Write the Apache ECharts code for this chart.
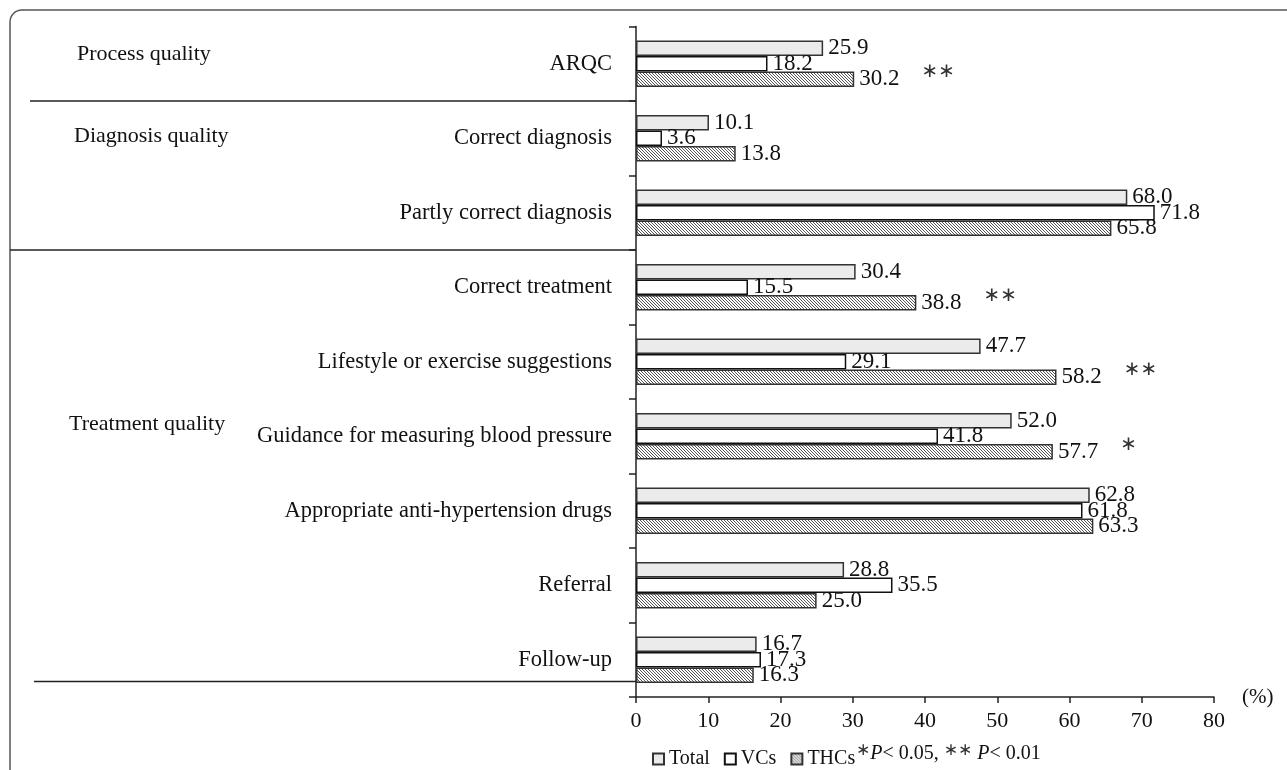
<!DOCTYPE html>
<html>
<head>
<meta charset="utf-8">
<script src="https://cdn.jsdelivr.net/npm/echarts@6/dist/echarts.min.js"></script>
<style>
html,body{margin:0;padding:0;background:#fff;}
#chart{width:1287px;height:770px;}
</style>
</head>
<body>
<div id="chart"></div>
<script>
const categories = ['ARQC','Correct diagnosis','Partly correct diagnosis','Correct treatment','Lifestyle or exercise suggestions','Guidance for measuring blood pressure','Appropriate anti-hypertension drugs','Referral','Follow-up'];
const totalValues = [25.9, 10.1, 68.0, 30.4, 47.7, 52.0, 62.8, 28.8, 16.7];
const vcValues = [18.2, 3.6, 71.8, 15.5, 29.1, 41.8, 61.8, 35.5, 17.3];
const thcValues = [30.2, 13.8, 65.8, 38.8, 58.2, 57.7, 63.3, 25.0, 16.3];
const sigMarks = ['**', '', '', '**', '**', '*', '', '', ''];
const xTicks = [0, 10, 20, 30, 40, 50, 60, 70, 80];
const groupNames = ['Process quality', 'Diagnosis quality', 'Treatment quality'];

const FONT = '"Liberation Serif", "Times New Roman", serif';

// hatch pattern
const pc = document.createElement('canvas');
pc.width = 3; pc.height = 3;
const pctx = pc.getContext('2d');
pctx.fillStyle = '#fff'; pctx.fillRect(0,0,3,3);
pctx.fillStyle = '#555';
for (let i = 0; i < 3; i++) pctx.fillRect(i, i, 1, 1);

const gridTop = 26.5, gridBottom = 73, gridLeft = 636, gridRight = 73;
const band = (770 - gridTop - gridBottom) / categories.length;

const chart = echarts.init(document.getElementById('chart'), null, {renderer: 'canvas'});

const star = s => s.replace(/\*/g, '\u2217');

const option = {
  animation: false,
  backgroundColor: '#fff',
  textStyle: {fontFamily: FONT, color: '#111'},
  grid: {left: gridLeft, right: gridRight, top: gridTop, bottom: gridBottom, containLabel: false},
  xAxis: {
    type: 'value', min: xTicks[0], max: xTicks[xTicks.length-1], interval: 10,
    name: '(%)', nameLocation: 'end', nameGap: 28,
    nameTextStyle: {fontFamily: FONT, fontSize: 21, color: '#111'},
    axisLine: {show: true, lineStyle: {color: '#222', width: 1.5}},
    axisTick: {show: true, length: 6, lineStyle: {color: '#222', width: 1.5}},
    axisLabel: {fontFamily: FONT, fontSize: 22, color: '#111', margin: 13},
    splitLine: {show: false}
  },
  yAxis: {
    type: 'category', data: categories, inverse: true,
    axisLine: {show: true, lineStyle: {color: '#222', width: 1.5}},
    axisTick: {show: true, length: 7, lineStyle: {color: '#222', width: 1.5}},
    axisLabel: {fontFamily: FONT, fontSize: 22.5, color: '#111', margin: 24}
  },
  legend: {
    left: 647, top: 744, itemWidth: 11, itemHeight: 11, itemGap: 14,
    icon: 'rect',
    textStyle: {fontFamily: FONT, fontSize: 20, color: '#111', padding: [0,0,0,0]},
    data: ['Total', 'VCs', 'THCs']
  },
  series: [
    {
      name: 'Total', type: 'bar', data: totalValues, barWidth: 15.5, barGap: '0%',
      itemStyle: {color: '#ebebeb', borderColor: '#333', borderWidth: 1.5},
      label: {show: true, position: 'right', distance: 5, fontFamily: FONT, fontSize: 23, color: '#111',
        formatter: p => p.value.toFixed(1)}
    },
    {
      name: 'VCs', type: 'bar', data: vcValues, barWidth: 15.5, barGap: '0%',
      itemStyle: {color: '#fff', borderColor: '#111', borderWidth: 1.5},
      label: {show: true, position: 'right', distance: 5, fontFamily: FONT, fontSize: 23, color: '#111',
        formatter: p => p.value.toFixed(1)}
    },
    {
      name: 'THCs', type: 'bar', data: thcValues, barWidth: 15.5, barGap: '0%',
      itemStyle: {color: {image: pc, repeat: 'repeat'}, borderColor: '#333', borderWidth: 1.5},
      label: {show: true, position: 'right', distance: 5, fontFamily: FONT, fontSize: 23, color: '#111',
        formatter: p => '{v|' + p.value.toFixed(1) + '}' + (sigMarks[p.dataIndex] ? '{s|' + star(sigMarks[p.dataIndex]) + '}' : ''),
        rich: {
          v: {fontFamily: FONT, fontSize: 23, color: '#111'},
          s: {fontFamily: '"DejaVu Sans", sans-serif', fontSize: 20, color: '#333', padding: [0, 0, 14, 22]}
        }
      }
    }
  ],
  graphic: [
    {type: 'rect', shape: {x: 10, y: 10, width: 1300, height: 800, r: 12},
     style: {fill: null, stroke: '#555', lineWidth: 1.5}, silent: true, z: -1},
    {type: 'line', shape: {x1: 30, y1: gridTop + band, x2: gridLeft, y2: gridTop + band},
     style: {stroke: '#222', lineWidth: 1.5}},
    {type: 'line', shape: {x1: 10, y1: gridTop + 3 * band, x2: gridLeft, y2: gridTop + 3 * band},
     style: {stroke: '#222', lineWidth: 1.5}},
    {type: 'line', shape: {x1: 34, y1: 681.5, x2: gridLeft, y2: 681.5},
     style: {stroke: '#222', lineWidth: 1.5}},
    {type: 'text', left: 77, top: 43, style: {text: groupNames[0], font: '22px ' + FONT, fill: '#111'}},
    {type: 'text', left: 74, top: 125, style: {text: groupNames[1], font: '22px ' + FONT, fill: '#111'}},
    {type: 'text', left: 69, top: 413, style: {text: groupNames[2], font: '22px ' + FONT, fill: '#111'}},
    {type: 'text', left: 856, top: 742, style: {
      text: '{a|\u2217}{i|P}{t|< 0.05, }{a|\u2217\u2217}{t| }{i|P}{t|< 0.01}',
      rich: {
        a: {fontFamily: '"DejaVu Sans", sans-serif', fontSize: 17, fill: '#333', padding: [0,0,6,0]},
        i: {fontFamily: FONT, fontSize: 20, fontStyle: 'italic', fill: '#111'},
        t: {fontFamily: FONT, fontSize: 20, fill: '#111'}
      }
    }}
  ]
};
chart.setOption(option);
</script>
</body>
</html>
